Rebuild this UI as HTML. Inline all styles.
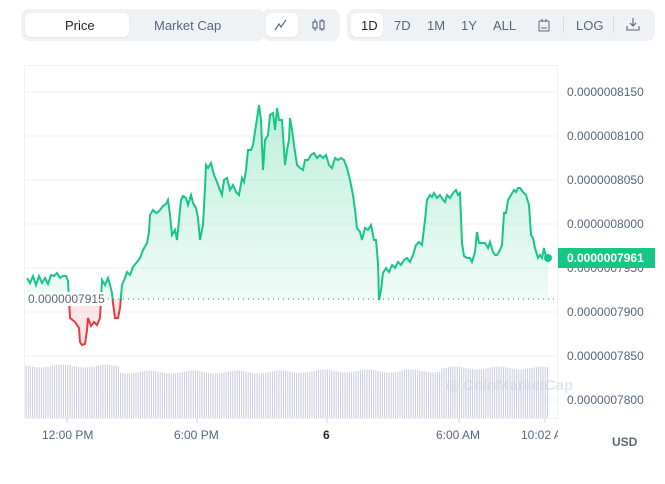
<!DOCTYPE html>
<html><head><style>
body{margin:0;width:665px;height:484px;background:#fff;font-family:"Liberation Sans",sans-serif;overflow:hidden;position:relative}
.g{position:absolute;background:#eff2f5;border-radius:8px;top:9px;height:32px}
.b{position:absolute;top:4px;height:24px;background:#fff;border-radius:6px;box-shadow:0 1px 2px rgba(0,0,0,.06)}
.t{position:absolute;top:10px;font-size:13px;color:#58667e;line-height:14px}
.yl{position:absolute;left:567px;font-size:12px;color:#58667e}
.xl{position:absolute;top:428px;font-size:12px;color:#58667e}
</style></head><body>
<div class="g" style="left:21px;width:244px"><div class="b" style="left:4px;width:104px"></div>
<span class="t" style="left:44px;color:#222531">Price</span><span class="t" style="left:133px">Market Cap</span></div>
<div class="g" style="left:262px;width:78px"><div class="b" style="left:4px;width:32px"></div>
<svg style="position:absolute;left:12px;top:10px" width="14" height="12"><polyline points="1,11 5,5 7,8 12,1" fill="none" stroke="#58667e" stroke-width="1.2"/></svg>
<svg style="position:absolute;left:49px;top:9px" width="16" height="14"><g stroke="#58667e" fill="none" stroke-width="1.1"><line x1="4" y1="1" x2="4" y2="13"/><rect x="2" y="4" width="4" height="6" fill="#eff2f5"/><line x1="11" y1="1" x2="11" y2="13"/><rect x="9" y="3" width="4" height="8" fill="#eff2f5"/></g></svg></div>
<div class="g" style="left:347px;width:308px"><div class="b" style="left:4px;width:32px"></div>
<span class="t" style="left:14px;color:#222531">1D</span><span class="t" style="left:47px">7D</span><span class="t" style="left:80px">1M</span><span class="t" style="left:114px">1Y</span><span class="t" style="left:146px">ALL</span>
<svg style="position:absolute;left:190px;top:9px" width="14" height="14"><rect x="2" y="3" width="10" height="10" rx="1" fill="none" stroke="#58667e"/><line x1="4" y1="10" x2="10" y2="10" stroke="#58667e"/><line x1="5" y1="1" x2="5" y2="4" stroke="#58667e"/><line x1="9" y1="1" x2="9" y2="4" stroke="#58667e"/></svg>
<div style="position:absolute;left:216px;top:8px;width:1px;height:16px;background:#d5d9e0"></div>
<span class="t" style="left:229px">LOG</span>
<div style="position:absolute;left:266px;top:8px;width:1px;height:16px;background:#d5d9e0"></div>
<svg style="position:absolute;left:279px;top:8px" width="14" height="14"><g stroke="#58667e" fill="none" stroke-width="1.1"><line x1="7" y1="1" x2="7" y2="9"/><polyline points="4,6 7,9 10,6"/><polyline points="1,9 1,13 13,13 13,9"/></g></svg></div>

<svg id="c" style="position:absolute;left:0;top:0" width="665" height="484"></svg>
<div class="yl" style="top:85px">0.0000008150</div>
<div class="yl" style="top:129px">0.0000008100</div>
<div class="yl" style="top:173px">0.0000008050</div>
<div class="yl" style="top:217px">0.0000008000</div>
<div class="yl" style="top:261px">0.0000007950</div>
<div class="yl" style="top:305px">0.0000007900</div>
<div class="yl" style="top:349px">0.0000007850</div>
<div class="yl" style="top:393px">0.0000007800</div>
<div style="position:absolute;left:558px;top:248px;width:97px;height:20px;background:#16c784;color:#fff;font-size:12px;font-weight:bold;line-height:20px;padding-left:9px;box-sizing:border-box">0.0000007961</div>
<div style="position:absolute;left:28px;top:292px;font-size:12px;color:#58667e;background:#fff">0.0000007915</div>
<div class="xl" style="left:42px">12:00 PM</div>
<div class="xl" style="left:174px">6:00 PM</div>
<div class="xl" style="left:323px;font-weight:bold;color:#222531">6</div>
<div class="xl" style="left:436px">6:00 AM</div>
<div class="xl" style="left:521px;width:37px;overflow:hidden;white-space:nowrap">10:02 AM</div>
<div style="position:absolute;left:612px;top:435px;font-size:12px;font-weight:bold;color:#58667e">USD</div>
<div style="position:absolute;left:446px;top:376px;font-size:15px;font-weight:bold;color:#cfd6e4;opacity:.6">◎ CoinMarketCap</div>
<script>
var P=[27,278,30,283,33,276,36,285,39,276,42,283,45,278,48,284,51,275,54,276,57,273,60,278,63,276,66,276,68,281,69,300,70,318,75,322,79,328,80,342,82,345,85,344,87,330,88,318,91,326,94,322,97,325,100,318,101,300,102,280,105,285,108,278,110,285,112,293,113,303,115,318,118,318,120,308,122,285,125,278,127,272,130,275,133,267,137,262,140,258,143,250,147,243,149,232,150,215,153,210,156,213,158,212,160,210,163,206,166,204,168,200,170,215,172,235,175,230,177,240,179,220,181,200,183,196,186,198,188,205,191,195,193,203,196,208,198,218,200,240,203,225,205,188,206,165,208,168,211,163,214,175,217,182,220,190,222,195,224,180,227,178,230,190,233,185,236,192,239,195,242,178,244,182,246,170,248,150,251,150,253,145,256,125,259,105,261,120,263,170,265,140,268,135,270,115,273,113,275,130,277,108,279,120,282,120,285,165,287,150,289,140,290,118,292,130,294,145,297,165,300,168,303,170,305,160,308,160,311,155,314,153,317,158,320,155,323,158,326,155,329,165,332,168,335,158,338,160,341,158,344,160,347,168,350,180,353,195,355,210,357,228,360,232,362,240,365,228,368,230,371,225,374,240,376,240,378,263,379,300,381,290,383,273,386,268,389,272,392,265,395,268,398,262,401,265,404,260,407,258,410,262,413,255,416,245,419,242,422,245,425,220,427,200,430,195,432,197,434,193,437,198,440,195,443,200,445,202,447,195,450,198,453,193,456,190,458,195,460,193,462,243,464,256,467,258,470,258,472,262,475,252,477,232,479,243,482,243,485,243,488,248,490,242,493,252,495,255,497,255,500,250,502,245,504,213,506,213,508,200,511,195,514,190,516,192,518,188,520,188,523,192,526,195,529,205,531,235,533,238,535,248,538,258,540,255,542,258,544,248,546,258,548,258];
var pts=[];for(var i=0;i<P.length;i+=2)pts.push(P[i]+','+P[i+1]);var L=pts.join(' ');
var s='<defs><linearGradient id="gg" x1="0" y1="0" x2="0" y2="1"><stop offset="0" stop-color="#16c784" stop-opacity=".28"/><stop offset="1" stop-color="#16c784" stop-opacity=".02"/></linearGradient>'+
'<clipPath id="up"><rect x="0" y="0" width="665" height="299"/></clipPath><clipPath id="dn"><rect x="0" y="299" width="665" height="200"/></clipPath></defs>';
s+='<rect x="24.5" y="65.5" width="533" height="353" fill="none" stroke="#eff2f5"/>';
for(var y=92;y<=400;y+=44)s+='<line x1="24" x2="558" y1="'+y+'" y2="'+y+'" stroke="#eff2f5"/>';
for(var x=26;x<548;x+=2.2){var h=(x<120?52:x<300?46:x<440?47:50)+Math.sin(x*3)*1.5;s+='<line x1="'+x.toFixed(1)+'" x2="'+x.toFixed(1)+'" y1="'+(418-h)+'" y2="418" stroke="#c6cbdd" stroke-width="1"/>';}
s+='<polygon points="27,299 '+L+' 548,299" fill="url(#gg)" clip-path="url(#up)"/>';
s+='<polygon points="27,299 '+L+' 548,299" fill="#ea3943" fill-opacity=".12" clip-path="url(#dn)"/>';
s+='<line x1="28" x2="558" y1="299" y2="299" stroke="#58667e" stroke-dasharray="1,4"/>';
s+='<polyline points="'+L+'" fill="none" stroke="#16c784" stroke-width="2" clip-path="url(#up)"/>';
s+='<polyline points="'+L+'" fill="none" stroke="#ea3943" stroke-width="2" clip-path="url(#dn)"/>';
s+='<circle cx="548" cy="258" r="4" fill="#16c784"/>';
[67,197,327,459,545].forEach(function(x){s+='<line x1="'+x+'" x2="'+x+'" y1="418" y2="423" stroke="#cfd6e4"/>'});
document.getElementById('c').innerHTML=s;
</script>
</body></html>
